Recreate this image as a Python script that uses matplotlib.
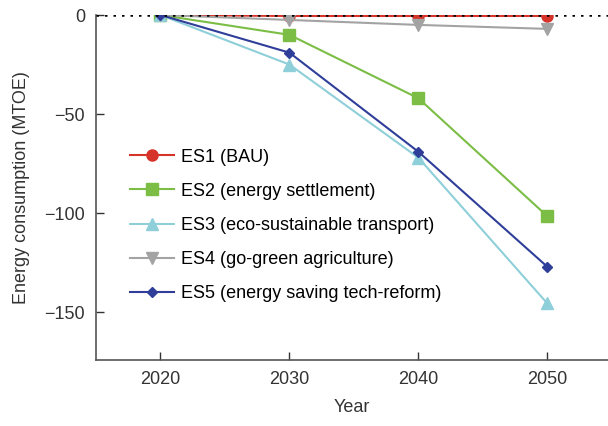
import matplotlib
matplotlib.use("Agg")
import matplotlib.pyplot as plt

plt.rcParams['font.family'] = ['Liberation Sans', 'DejaVu Sans']

years = [2020, 2030, 2040, 2050]
es1 = [0, -0.5, -0.5, -0.5]
es2 = [0, -10, -42, -101.5]
es3 = [0, -25, -72, -145.5]
es4 = [0, -2.5, -5, -7]
es5 = [0, -19, -69, -127]

labels = ["ES1 (BAU)", "ES2 (energy settlement)", "ES3 (eco-sustainable transport)",
          "ES4 (go-green agriculture)", "ES5 (energy saving tech-reform)"]
colors = ["#d6332a", "#7bbd45", "#8ecfd9", "#a3a3a3", "#2f3e99"]
markers = ["o", "s", "^", "v", "D"]
msizes = [8, 8, 8, 8, 5]

fig = plt.figure(figsize=(6.08, 4.26), dpi=100)
ax = fig.add_axes([96/608, 66/426, 1 - 96/608, (360 - 15)/426])

for vals, lab, c, m, ms in zip([es1, es2, es3, es4, es5], labels, colors, markers, msizes):
    ax.plot(years, vals, color=c, marker=m, markersize=ms, linewidth=1.5, label=lab, zorder=3)

ax.axhline(0, color="black", linestyle=(0, (1, 2.4)), linewidth=1.8, zorder=4)

ax.set_xlim(2015, 2054.7)
ax.set_ylim(-174, 0)
ax.set_xticks(years)
ax.set_yticks([0, -50, -100, -150])
ax.set_yticklabels(["0", "\u221250", "\u2212100", "\u2212150"])
ax.tick_params(direction="in", length=6, width=1, labelsize=13, colors="#333333", pad=8)
for s in ["top", "right"]:
    ax.spines[s].set_visible(False)
for s in ["left", "bottom"]:
    ax.spines[s].set_color("#555555")
    ax.spines[s].set_linewidth(1.2)

ax.set_xlabel("Year", fontsize=13, color="#333333", labelpad=8)
ax.set_ylabel("Energy consumption (MTOE)", fontsize=13, color="#333333", labelpad=10)

ax.legend(loc="upper left", bbox_to_anchor=(0.035, 0.66), frameon=False, fontsize=13,
          handlelength=2.4, labelspacing=0.95, handletextpad=0.4)

fig.savefig("out.png", dpi=100)
